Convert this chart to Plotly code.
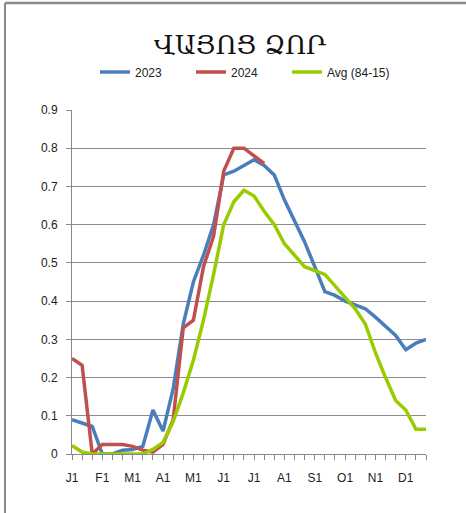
import plotly.graph_objects as go

# 36 ten-day periods (1st, 11th, 21st of each month)
month_labels = ["J1", "F1", "M1", "A1", "M1", "J1", "J1", "A1", "S1", "O1", "N1", "D1"]
periods_per_month = 3

y2023 = [0.09, 0.082, 0.072, 0.0, 0.0, 0.01, 0.012, 0.02, 0.115, 0.06, 0.17, 0.34,
         0.45, 0.52, 0.60, 0.73, 0.74, 0.755, 0.77, 0.755, 0.73, 0.665, 0.61, 0.555,
         0.49, 0.425, 0.415, 0.40, 0.39, 0.38, 0.358, 0.335, 0.31, 0.273, 0.29, 0.30]

y2024 = [0.25, 0.232, 0.0, 0.025, 0.025, 0.025, 0.02, 0.01, 0.005, 0.025, 0.09, 0.33,
         0.35, 0.49, 0.57, 0.74, 0.80, 0.80, 0.78, 0.76]

yavg = [0.022, 0.005, 0.0, 0.0, 0.0, 0.0, 0.0, 0.0, 0.012, 0.03, 0.085, 0.16,
        0.245, 0.35, 0.47, 0.60, 0.66, 0.69, 0.675, 0.635, 0.60, 0.55, 0.52, 0.49,
        0.48, 0.47, 0.44, 0.41, 0.38, 0.34, 0.265, 0.20, 0.14, 0.115, 0.065, 0.065]

title_text = "ՎԱՅՈՑ ՁՈՐ"
names = ["2023", "2024", "Avg (84-15)"]
colors = ["#4A7EBB", "#C0504D", "#99CC00"]

n = len(y2023)
x = list(range(n))

W, H = 466, 513
L, R, T, B = 72, 40, 110, 59
pw, ph = W - L - R, H - T - B

def px_to_paper_x(p):
    return (p - L) / pw

def px_to_paper_y(p):
    return (H - B - p) / ph

legend_ids = ["legend", "legend2", "legend3"]
legend_px = [95, 191, 287]

fig = go.Figure()
for name, ys, c, lg in zip(names, [y2023, y2024, yavg], colors, legend_ids):
    fig.add_trace(go.Scatter(x=x[:len(ys)], y=ys, mode="lines", name=name, legend=lg,
                             line=dict(color=c, width=3.5), cliponaxis=True))

legend_common = dict(orientation="h", xanchor="left", yanchor="middle",
                     y=px_to_paper_y(72), font=dict(size=12, color="#222"),
                     bgcolor="rgba(0,0,0,0)")

fig.update_layout(
    width=W, height=H,
    margin=dict(l=L, r=R, t=T, b=B, pad=0),
    paper_bgcolor="white", plot_bgcolor="white",
    font=dict(family="Liberation Sans, Arial", size=12, color="#222"),
    title=dict(text=title_text, font=dict(family="DejaVu Serif", size=26, color="#111"),
               x=240 / W, xanchor="center", y=1 - 45 / H, yanchor="middle"),
    showlegend=True,
    legend=dict(x=px_to_paper_x(legend_px[0]), **legend_common),
    legend2=dict(x=px_to_paper_x(legend_px[1]), **legend_common),
    legend3=dict(x=px_to_paper_x(legend_px[2]), **legend_common),
    xaxis=dict(range=[0, n - 1], tickmode="array",
               tickvals=[periods_per_month * k for k in range(len(month_labels))],
               ticktext=month_labels, ticks="outside", ticklen=5, tickcolor="#888",
               showline=True, linecolor="#888", linewidth=1, showgrid=False,
               zeroline=False, ticklabelstandoff=8,
               minor=dict(dtick=1, ticks="outside", ticklen=5, tickcolor="#888",
                          showgrid=False),
               tickfont=dict(size=12, color="#222"), fixedrange=True),
    yaxis=dict(range=[0, 0.9], dtick=0.1, ticks="outside", ticklen=5, tickcolor="#888",
               showline=True, linecolor="#888", linewidth=1, showgrid=True,
               gridcolor="#8c8c8c", gridwidth=1, zeroline=False,
               tickfont=dict(size=12, color="#222"), ticklabelstandoff=6,
               fixedrange=True),
    shapes=[
        dict(type="line", xref="paper", yref="paper",
             x0=px_to_paper_x(5), x1=px_to_paper_x(W + 5),
             y0=px_to_paper_y(3), y1=px_to_paper_y(3),
             line=dict(color="#8a8a8a", width=2.5)),
        dict(type="line", xref="paper", yref="paper",
             x0=px_to_paper_x(5), x1=px_to_paper_x(5),
             y0=px_to_paper_y(3), y1=px_to_paper_y(H + 5),
             line=dict(color="#8a8a8a", width=2)),
    ],
)

fig.write_html("out.html", config={"displayModeBar": False},
               post_script="document.body.style.margin='0';document.body.style.overflow='hidden';")
